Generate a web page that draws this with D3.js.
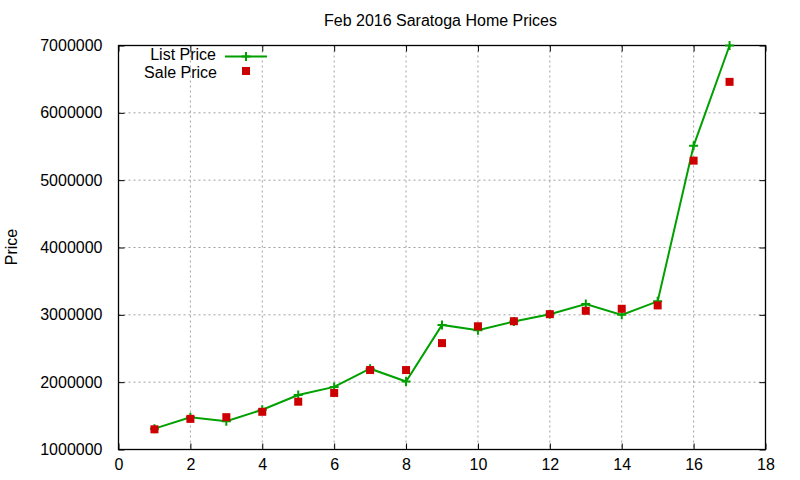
<!DOCTYPE html>
<html><head><meta charset="utf-8">
<script src="https://cdn.jsdelivr.net/npm/d3@7/dist/d3.min.js"></script>
<style>body{margin:0;background:#fff}svg{display:block}text{font-family:"Liberation Sans",Arial,sans-serif;font-size:16px;fill:#000}</style>
</head><body><svg id="c" width="800" height="480"></svg>
<script>
const xValues = [1,2,3,4,5,6,7,8,9,10,11,12,13,14,15,16,17];
const listPrice = [1310000,1480000,1420000,1590000,1810000,1930000,2200000,2010000,2850000,2770000,2900000,3010000,3160000,3000000,3200000,5510000,7000000];
const salePrice = [1300000,1455000,1480000,1560000,1710000,1840000,2180000,2180000,2580000,2830000,2905000,3010000,3060000,3090000,3140000,5290000,6460000];
const xTicks = [0,2,4,6,8,10,12,14,16,18];
const yTicks = [1000000,2000000,3000000,4000000,5000000,6000000,7000000];
const titleText = "Feb 2016 Saratoga Home Prices";
const yLabel = "Price";
const seriesNames = ["List Price","Sale Price"];

const svg = d3.select("#c");
const L=118.5,R=765.5,T=45.5,B=449.5;
const x = d3.scaleLinear().domain([0,18]).range([L,R]);
const y = d3.scaleLinear().domain([1000000,7000000]).range([B,T]);
const green="#00a000", red="#cc0000";

// grid
const g = svg.append("g");
g.selectAll(".gx").data(xTicks.filter(d=>d>0&&d<18)).join("line")
  .attr("x1",d=>x(d)).attr("x2",d=>x(d)).attr("y1",T).attr("y2",B)
  .attr("stroke","#a0a0a0").attr("stroke-width",1).attr("stroke-dasharray","2,3");
g.selectAll(".gy").data(yTicks.filter(d=>d>1000000&&d<7000000)).join("line")
  .attr("y1",d=>y(d)).attr("y2",d=>y(d)).attr("x1",L).attr("x2",R)
  .attr("stroke","#a0a0a0").attr("stroke-width",1).attr("stroke-dasharray","2,3");

// axes ticks (inward, mirrored)
const tk=6;
svg.append("g").attr("transform",`translate(0,${B})`).call(d3.axisBottom(x).tickValues(xTicks).tickSizeInner(-tk).tickSizeOuter(0).tickPadding(12))
  .call(a=>{a.select(".domain").remove();a.selectAll("line").attr("stroke","#000");a.selectAll("text").attr("font-size",16).attr("font-family","Liberation Sans").attr("dy","0.55em");});
svg.append("g").attr("transform",`translate(0,${T})`).call(d3.axisTop(x).tickValues(xTicks).tickSizeInner(-tk).tickSizeOuter(0).tickFormat(""))
  .call(a=>{a.select(".domain").remove();a.selectAll("line").attr("stroke","#000");});
svg.append("g").attr("transform",`translate(${L},0)`).call(d3.axisLeft(y).tickValues(yTicks).tickSizeInner(-tk).tickSizeOuter(0).tickPadding(16).tickFormat(d3.format("d")))
  .call(a=>{a.select(".domain").remove();a.selectAll("line").attr("stroke","#000");a.selectAll("text").attr("font-size",16).attr("font-family","Liberation Sans");});
svg.append("g").attr("transform",`translate(${R},0)`).call(d3.axisRight(y).tickValues(yTicks).tickSizeInner(-tk).tickSizeOuter(0).tickFormat(""))
  .call(a=>{a.select(".domain").remove();a.selectAll("line").attr("stroke","#000");});

svg.append("rect").attr("x",L).attr("y",T).attr("width",R-L).attr("height",B-T)
  .attr("fill","none").attr("stroke","#000").attr("stroke-width",1.3);

// list price line
const pts = xValues.map((d,i)=>[d,listPrice[i]]);
svg.append("path").datum(pts).attr("fill","none").attr("stroke",green).attr("stroke-width",2)
  .attr("d",d3.line().x(d=>x(d[0])).y(d=>y(d[1])));
const ps=4.5;
svg.append("g").selectAll("path").data(pts).join("path")
  .attr("d",d=>`M${x(d[0])-ps},${y(d[1])}H${x(d[0])+ps}M${x(d[0])},${y(d[1])-ps}V${y(d[1])+ps}`)
  .attr("stroke",green).attr("stroke-width",2).attr("fill","none");

// sale price squares
const sq=8;
svg.append("g").selectAll("rect").data(xValues.map((d,i)=>[d,salePrice[i]])).join("rect")
  .attr("x",d=>x(d[0])-sq/2).attr("y",d=>y(d[1])-sq/2).attr("width",sq).attr("height",sq).attr("fill",red);

// legend
svg.append("text").attr("x",216).attr("y",60).attr("text-anchor","end").text(seriesNames[0]);
svg.append("text").attr("x",217).attr("y",78).attr("text-anchor","end").text(seriesNames[1]);
svg.append("line").attr("x1",225).attr("x2",267).attr("y1",56.5).attr("y2",56.5).attr("stroke",green).attr("stroke-width",2);
svg.append("path").attr("d",`M${246-ps},56.5H${246+ps}M246,${56.5-ps}V${56.5+ps}`).attr("stroke",green).attr("stroke-width",2);
svg.append("rect").attr("x",246-sq/2).attr("y",71-sq/2).attr("width",sq).attr("height",sq).attr("fill",red);

// title & label
svg.append("text").attr("x",440.5).attr("y",26).attr("text-anchor","middle").text(titleText);
svg.append("text").attr("transform","translate(17,247) rotate(-90)").attr("text-anchor","middle").text(yLabel);
</script></body></html>
